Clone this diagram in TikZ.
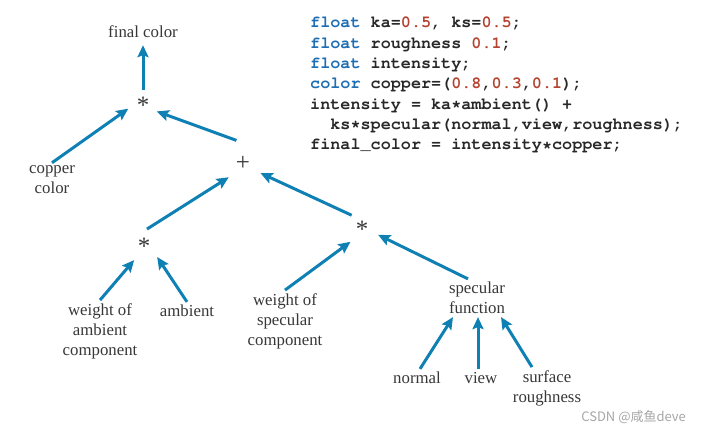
\documentclass[tikz,border=0pt]{standalone}
\usepackage{fontspec}
\setmainfont{Liberation Serif}
\setmonofont{Liberation Mono}
\newfontfamily\cjkfont{Noto Sans CJK SC}
\usetikzlibrary{arrows.meta,positioning}
\definecolor{arrowblue}{RGB}{14,128,180}
\definecolor{kwblue}{RGB}{30,110,180}
\definecolor{numred}{RGB}{180,66,46}
\definecolor{labelgray}{RGB}{55,55,55}
\definecolor{codegray}{RGB}{40,40,40}
\newcommand{\kw}[1]{\textcolor{kwblue}{#1}}
\newcommand{\nm}[1]{\textcolor{numred}{#1}}
\newcommand{\codefont}{\fontencoding{T1}\fontfamily{pcr}\fontseries{b}\selectfont}

\begin{document}
\begin{tikzpicture}[x=1pt,y=-1pt,
  every node/.style={font=\fontsize{16.8}{20}\selectfont,text=labelgray,align=center,inner sep=3pt},
  op/.style={circle,minimum size=34pt,inner sep=0pt,font=\fontsize{25}{25}\selectfont},
  arr/.style={draw=arrowblue,line width=3pt,-{Stealth[length=12pt,width=11pt,inset=2pt]}}]
\useasboundingbox (0,0) rectangle (701,433);
% expression tree
\node (final) at (143,32) {final color};
\node[op,minimum size=30pt] (mulTop) at (143,105) {*};
\node (copper) at (52,180) {copper\\color};
\node[op,minimum size=40pt] (plus) at (243,163) {+};
\node[op] (mulAmb) at (144,246) {*};
\node[op] (mulSpec) at (362,229) {*};
\node (wAmb) at (100,331) {weight of\\ambient\\component};
\node (ambient) at (187,311) {ambient};
\node (wSpec) at (285,321) {weight of\\specular\\component};
\node (specFn) at (477,298) {specular\\function};
\node (normal) at (417,378) {normal};
\node (view) at (481,378) {view};
\node (rough) at (547,388) {surface\\roughness};
\draw[arr,shorten >=4pt] (mulTop.north) -- (final.south);
\draw[arr] (copper.north) -- (mulTop.194);
\draw[arr,shorten <=7pt] (plus.north) -- (mulTop.335);
\draw[arr] (mulAmb.80) -- (plus.225);
\draw[arr] (mulSpec.127) -- (plus.330);
\draw[arr] (wAmb.north) -- (mulAmb.235);
\draw[arr] (ambient.north) -- (mulAmb.320);
\draw[arr] (wSpec.north) -- (mulSpec.228);
\draw[arr] ([xshift=-9pt]specFn.north) -- (mulSpec.340);
\draw[arr] ([xshift=3pt]normal.north) -- ([xshift=-24pt]specFn.south);
\draw[arr] ([xshift=-3pt]view.north) -- ([xshift=1pt]specFn.south);
\draw[arr] ([xshift=-15pt]rough.north) -- ([xshift=24pt]specFn.south);
% shader code
\node[anchor=north west,align=left,inner sep=0pt,text=codegray,
  font=\codefont\fontsize{16.8}{20.3}\selectfont] (code) at (310,17) {%
\kw{float} ka=\nm{0.5}, ks=\nm{0.5};\\
\kw{float} roughness \nm{0.1};\\
\kw{float} intensity;\\
\kw{color} copper=(\nm{0.8},\nm{0.3},\nm{0.1});\\
intensity = ka*ambient() +\\
\ \ ks*specular(normal,view,roughness);\\
final\_color = intensity*copper;};
\node[anchor=east,inner sep=0pt,text=gray!70,font=\cjkfont\fontsize{13}{13}\selectfont] (mark) at (686,417) {CSDN @咸鱼deve};
\end{tikzpicture}
\end{document}
